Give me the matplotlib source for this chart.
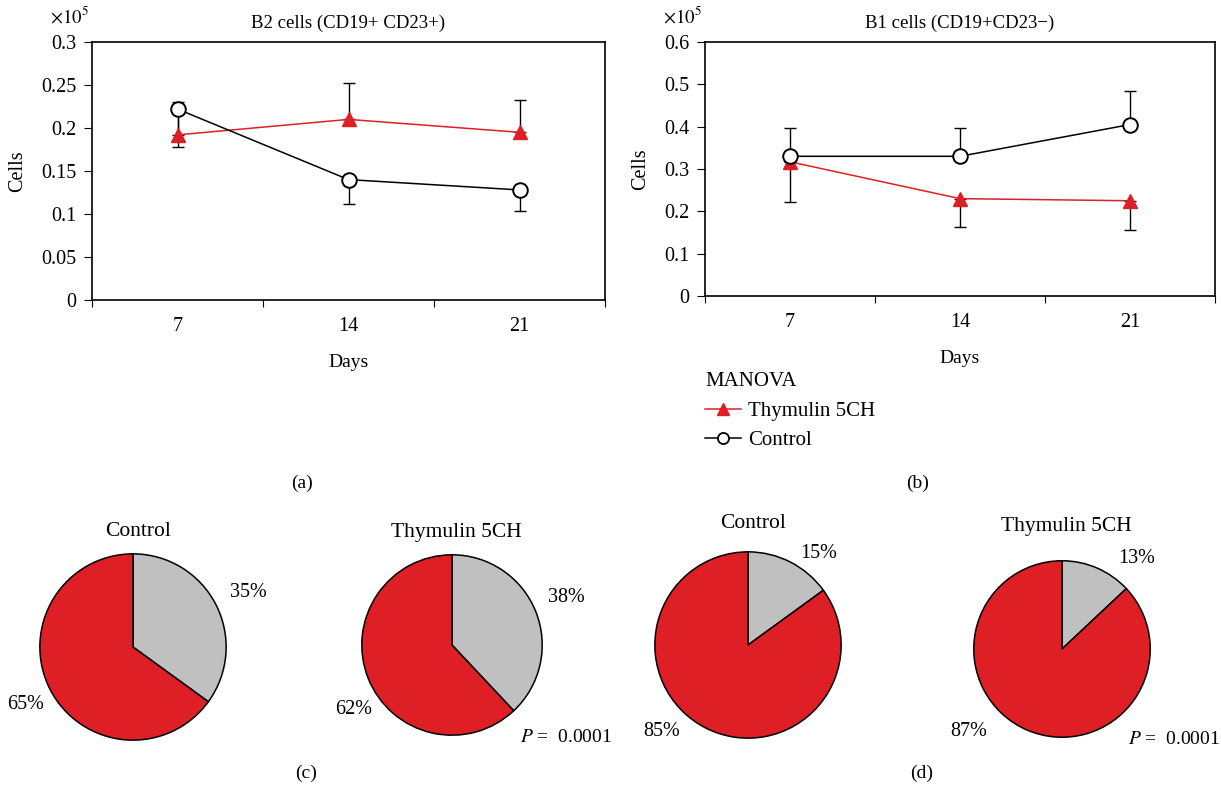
import numpy as np
import matplotlib
matplotlib.use('Agg')
import matplotlib.pyplot as plt
from matplotlib.lines import Line2D

plt.rcParams['font.family'] = ['Liberation Serif', 'DejaVu Serif']
plt.rcParams['mathtext.fontset'] = 'stix'

RED = '#DE1F26'
GRAY = '#C0C0C0'

# data
days = ['7', '14', '21']

b2_thy = [0.192, 0.210, 0.195]
b2_thy_up = [0.038, 0.042, 0.038]
b2_ctl = [0.222, 0.140, 0.128]
b2_ctl_dn = [0.044, 0.028, 0.025]

b1_thy = [0.317, 0.230, 0.225]
b1_thy_dn = [0.095, 0.068, 0.068]
b1_ctl = [0.330, 0.330, 0.405]
b1_ctl_up = [0.066, 0.066, 0.080]

pie_b2_ctl = [35, 65]
pie_b2_thy = [38, 62]
pie_b1_ctl = [15, 85]
pie_b1_thy = [13, 87]
p_value = '0.0001'

W, H = 1221, 792
fig = plt.figure(figsize=(W / 100, H / 100), dpi=100)


def box(l, t, r, b):
    return [l / W, 1 - b / H, (r - l) / W, (b - t) / H]


def line_panel(ax, title, thy, thy_err, ctl, ctl_err, ymax, step):
    x = np.arange(1, len(days) + 1)
    # one sided error bars: thymulin and control in opposite directions
    ax.errorbar(x, thy, yerr=thy_err, fmt='none', ecolor='black',
                elinewidth=1, capsize=4, capthick=1, zorder=2)
    ax.errorbar(x, ctl, yerr=ctl_err, fmt='none', ecolor='black',
                elinewidth=1, capsize=4, capthick=1, zorder=2)
    ax.plot(x, thy, color=RED, lw=1.1, marker='^', ms=10,
            mfc=RED, mec=RED, zorder=3)
    ax.plot(x, ctl, color='black', lw=1.1, marker='o', ms=10.5,
            mfc='white', mec='black', mew=1.4, zorder=4)
    ax.set_xlim(0.5, len(days) + 0.5)
    ax.set_ylim(0, ymax)
    ax.set_yticks(np.round(np.arange(0, ymax + step / 2, step), 3))
    ax.yaxis.set_major_formatter(matplotlib.ticker.FormatStrFormatter('%g'))
    ax.set_xticks(np.arange(0.5, len(days) + 1, 1))
    ax.set_xticklabels([])
    ax.set_xticks(x, minor=True)
    ax.set_xticklabels(days, minor=True)
    ax.tick_params(axis='x', which='major', length=5, direction='out')
    ax.tick_params(axis='x', which='minor', length=0, pad=12, labelsize=14.5)
    ax.tick_params(axis='y', length=6, direction='out', pad=5, labelsize=14.5)
    for s in ax.spines.values():
        s.set_linewidth(1.2)
    ax.set_title(title, fontsize=13.5, pad=10)
    ax.set_xlabel('Days', fontsize=14, labelpad=13)
    ax.set_ylabel('Cells', fontsize=14.5, labelpad=10)
    ax.text(-0.082, 1.075, r'$\times 10^5$', transform=ax.transAxes,
            fontsize=13.5, ha='left', va='baseline')


ax_a = fig.add_axes(box(92, 42, 605, 300))
line_panel(ax_a, 'B2 cells (CD19+ CD23+)', b2_thy, [[0] * 3, b2_thy_up],
           b2_ctl, [b2_ctl_dn, [0] * 3], 0.3, 0.05)

ax_b = fig.add_axes(box(705, 42, 1215, 296))
line_panel(ax_b, 'B1 cells (CD19+CD23\u2212)', b1_thy, [b1_thy_dn, [0] * 3],
           b1_ctl, [[0] * 3, b1_ctl_up], 0.6, 0.1)
ax_b.text(0.0, -0.335, 'MANOVA', transform=ax_b.transAxes, fontsize=15,
          ha='left', va='center')
handles = [Line2D([], [], color=RED, lw=1.1, marker='^', ms=8.5, mfc=RED, mec=RED),
           Line2D([], [], color='black', lw=1.1, marker='o', ms=8,
                  mfc='white', mec='black', mew=1.3)]
ax_b.legend(handles, ['Thymulin 5CH', 'Control'], loc='upper left',
            bbox_to_anchor=(0.0, -0.415), frameon=False, fontsize=15,
            handlelength=1.75, handletextpad=0.3, labelspacing=0.45,
            borderpad=0, borderaxespad=0)

fig.text(302 / W, 1 - 483 / H, '(a)', fontsize=14, ha='center', va='center')
fig.text(918 / W, 1 - 483 / H, '(b)', fontsize=14, ha='center', va='center')
fig.text(306 / W, 1 - 773 / H, '(c)', fontsize=14, ha='center', va='center')
fig.text(922 / W, 1 - 773 / H, '(d)', fontsize=14, ha='center', va='center')


def pie_panel(cx, cy, r, vals, title, title_y, lab_pos, pval=None):
    ax = fig.add_axes(box(cx - r, cy - r, cx + r, cy + r))
    ax.pie(vals, colors=[GRAY, RED], startangle=90, counterclock=False,
           radius=1, wedgeprops=dict(edgecolor='black', linewidth=1.1))
    ax.set_xlim(-1.02, 1.02)
    ax.set_ylim(-1.02, 1.02)
    ax.set_aspect('equal')
    ax.axis('off')
    for v, (lx, ly) in zip(vals, lab_pos):
        ax.text(lx, ly, f'{v}%', fontsize=14.5, ha='center', va='center',
                clip_on=False)
    ax.text(0.05, title_y, title, fontsize=15.5, ha='center', va='center',
            clip_on=False)
    if pval is not None:
        ax.text(0.75, -1.03, r'$\it{P}$ =  ' + pval, fontsize=14,
                ha='left', va='center', clip_on=False)
    return ax


pie_panel(133, 647, 95, pie_b2_ctl, 'Control', 1.24,
          [(1.24, 0.59), (-1.15, -0.62)])
pie_panel(452, 645, 92, pie_b2_thy, 'Thymulin 5CH', 1.25,
          [(1.27, 0.53), (-1.09, -0.72)], p_value)
pie_panel(748, 645, 95, pie_b1_ctl, 'Control', 1.30,
          [(0.76, 0.98), (-0.93, -0.93)])
pie_panel(1062, 649, 90, pie_b1_thy, 'Thymulin 5CH', 1.39,
          [(0.85, 1.03), (-1.06, -0.93)], p_value)

fig.savefig('out.png', dpi=100)
